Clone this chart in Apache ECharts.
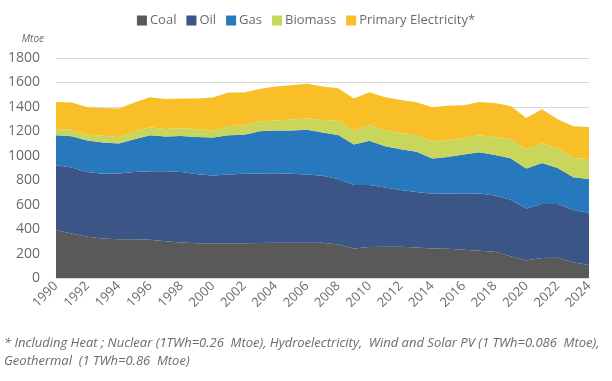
<!DOCTYPE html>
<html>
<head>
<meta charset="utf-8">
<script src="https://cdn.jsdelivr.net/npm/echarts@6/dist/echarts.min.js"></script>
<style>html,body{margin:0;padding:0;background:#fff}#c{width:612px;height:381px}</style>
</head>
<body>
<div id="c"></div>
<script>
const years = ['1990','1991','1992','1993','1994','1995','1996','1997','1998','1999','2000','2001','2002','2003','2004','2005','2006','2007','2008','2009','2010','2011','2012','2013','2014','2015','2016','2017','2018','2019','2020','2021','2022','2023','2024'];
const coal = [392,365,337,324,318,318,313,300,290,285,285,285,285,287,288,288,288,288,275,242,253,256,256,250,242,239,232,223,215,177,144,163,166,128,106];
const oil = [531,539,531,528,537,550,561,574,578,564,553,562,567,568,570,564,559,548,534,518,507,484,463,453,447,453,457,469,460,463,425,442,439,428,427];
const gas = [245,256,256,256,245,268,294,283,294,305,311,321,321,346,348,354,365,354,362,332,362,338,335,329,288,299,321,337,332,340,327,335,296,269,276];
const biomass = [49,52,49,57,52,62,66,63,63,63,60,74,77,82,82,90,95,103,114,114,128,131,133,136,139,139,136,139,147,156,158,163,158,158,163];
const primaryElec = [223,223,224,226,234,237,245,245,243,251,267,275,267,264,278,281,283,273,267,262,270,270,270,270,281,280,267,272,278,272,256,277,240,259,264];
const seriesNames = ['Coal','Oil','Gas','Biomass','Primary Electricity*'];
const footnote1 = '* Including Heat ; Nuclear (1TWh=0.26  Mtoe), Hydroelectricity,  Wind and Solar PV (1 TWh=0.086  Mtoe),';
const footnote2 = 'Geothermal  (1 TWh=0.86  Mtoe)';

const colors = ['#595959','#3c5587','#2878bd','#c8d65b','#f8bf28'];
const dataSets = [coal, oil, gas, biomass, primaryElec];
const FONT = 'Open Sans';

const chart = echarts.init(document.getElementById('c'), null, {renderer:'canvas'});
chart.setOption({
  animation:false,
  textStyle:{fontFamily:FONT},
  legend:{
    top:9, left:'center', itemWidth:10, itemHeight:10, itemGap:10,
    icon:'rect',
    textStyle:{color:'#6b6b6b', fontSize:13, fontFamily:FONT, padding:[0,0,0,-2]},
    data:seriesNames
  },
  grid:{left:56, right:23, top:58, bottom:103},
  xAxis:{
    type:'category', boundaryGap:false, data:years,
    axisLine:{lineStyle:{color:'#d9d9d9'}},
    axisTick:{show:false},
    axisLabel:{interval:1, rotate:45, color:'#6b6b6b', fontSize:13, margin:6, fontFamily:FONT}
  },
  yAxis:{
    type:'value', min:0, max:1800, interval:200,
    name:'Mtoe', nameLocation:'end', nameGap:14,
    nameTextStyle:{fontStyle:'italic', color:'#6b6b6b', fontSize:10, align:'right', padding:[0,12,0,0], fontFamily:FONT},
    axisLine:{show:false}, axisTick:{show:false},
    axisLabel:{color:'#6b6b6b', fontSize:14, margin:16, fontFamily:FONT, formatter:(v)=>String(v)},
    splitLine:{lineStyle:{color:'#d9d9d9', width:1}}
  },
  series: seriesNames.map((n,i)=>({
    name:n, type:'line', stack:'total', data:dataSets[i],
    symbol:'none', lineStyle:{width:0},
    areaStyle:{color:colors[i], opacity:1},
    itemStyle:{color:colors[i]}
  })),
  graphic:[
    {type:'text', left:4, top:337, style:{text:footnote1, fill:'#6b6b6b', font:'italic 13px "Open Sans"'}},
    {type:'text', left:4, top:355, style:{text:footnote2, fill:'#6b6b6b', font:'italic 13px "Open Sans"'}}
  ]
});
</script>
</body>
</html>
